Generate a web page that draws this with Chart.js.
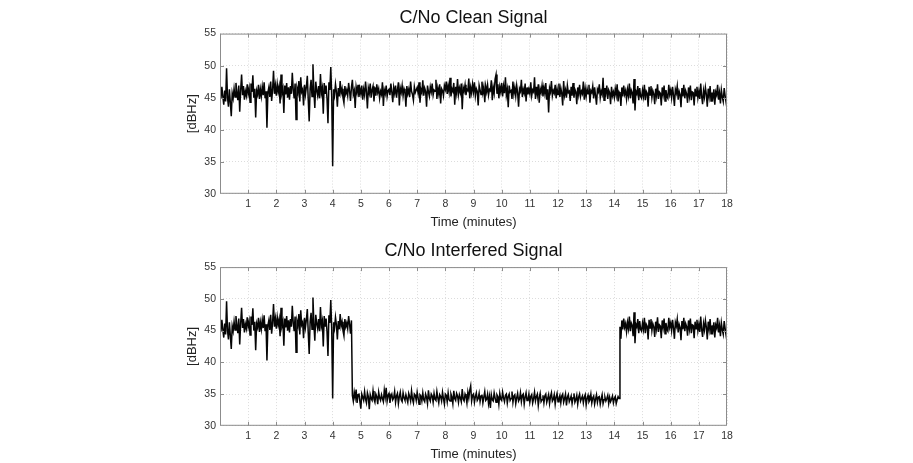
<!DOCTYPE html>
<html>
<head>
<meta charset="utf-8">
<script src="https://cdn.jsdelivr.net/npm/chart.js@4.4.0/dist/chart.umd.min.js"></script>
<style>
  html, body { margin: 0; padding: 0; background: #fff; }
  #wrap { position: relative; width: 913px; height: 463px; overflow: hidden; }
  .box { position: absolute; left: 0; width: 913px; }
</style>
</head>
<body>
<div id="wrap">
  <div class="box" style="top:0;height:231px"><canvas id="clean"></canvas></div>
  <div class="box" style="top:231px;height:232px"><canvas id="jam"></canvas></div>
</div>
<script>
// one sample every 2 s, 0 .. 18 min
const STEP_MIN = 2 / 60;

// C/No of the clean signal [dBHz], 15 samples per row = half a minute
const clean = [
  45.9, 44.8, 46.7, 45.2, 43.9, 46.1, 44.4, 49.6, 45.0, 43.6, 46.3, 44.2, 42.1, 45.7, 44.9,
  46.4, 45.1, 47.3, 45.8, 44.6, 46.9, 42.8, 46.2, 48.6, 45.4, 46.8, 44.7, 46.0, 45.3, 47.1,
  45.6, 46.5, 44.3, 47.2, 45.9, 48.5, 45.0, 46.4, 41.9, 46.1, 45.5, 47.0, 44.8, 46.3, 45.2,
  46.7, 45.4, 47.4, 44.9, 46.0, 40.3, 45.8, 46.6, 45.1, 47.5, 44.5, 46.2, 49.2, 45.6, 46.9,
  45.3, 47.1, 45.9, 46.8, 44.1, 48.6, 45.7, 46.4, 42.6, 46.9, 45.5, 47.3, 45.0, 46.6, 44.7,
  46.8, 45.6, 48.9, 46.2, 44.9, 47.2, 41.6, 46.5, 45.8, 47.6, 44.4, 48.2, 45.9, 46.3, 43.8,
  47.0, 45.5, 46.7, 48.4, 44.6, 41.3, 46.4, 47.8, 45.2, 50.2, 46.0, 43.4, 47.5, 46.1, 45.3,
  46.8, 44.9, 48.7, 45.7, 46.5, 42.5, 47.3, 45.6, 46.9, 44.8, 41.0, 47.4, 46.2, 49.8, 45.1,
  34.3, 46.3, 45.4, 47.1, 45.9, 43.6, 46.5, 45.2, 47.6, 45.7, 46.4, 45.0, 44.2, 46.8, 45.6,
  46.2, 45.3, 47.3, 46.0, 44.5, 46.6, 47.8, 45.5, 46.1, 43.4, 46.7, 45.8, 47.0, 45.1, 46.4,
  45.6, 46.9, 44.7, 46.3, 45.4, 47.5, 45.9, 43.3, 46.5, 45.7, 47.2, 45.0, 46.2, 46.8, 44.4,
  46.6, 45.3, 47.1, 45.8, 46.4, 44.9, 46.0, 45.5, 47.4, 43.7, 46.2, 45.6, 46.9, 45.2, 46.1,
  46.3, 45.4, 47.2, 45.9, 44.3, 46.6, 45.7, 46.9, 45.0, 46.2, 47.4, 43.8, 46.5, 45.8, 46.9,
  45.3, 46.4, 45.9, 43.6, 46.8, 45.6, 46.3, 45.1, 47.5, 46.0, 45.5, 44.6, 46.7, 45.8, 46.2,
  46.6, 45.7, 47.4, 44.2, 46.3, 45.8, 47.7, 45.3, 46.5, 46.0, 43.6, 46.9, 45.9, 45.2, 46.7,
  45.9, 47.2, 45.4, 46.2, 46.0, 47.8, 44.8, 46.5, 45.6, 47.1, 44.1, 46.4, 46.1, 45.3, 46.9,
  46.3, 47.5, 45.6, 46.9, 45.9, 48.1, 45.2, 46.4, 46.0, 47.3, 43.9, 46.7, 45.7, 47.9, 45.5,
  46.5, 45.8, 47.2, 43.2, 46.6, 46.0, 47.0, 45.4, 46.3, 46.1, 48.0, 44.9, 46.6, 45.7, 47.1,
  45.9, 47.4, 45.3, 46.4, 46.0, 43.8, 46.9, 46.2, 45.5, 47.5, 45.8, 46.7, 44.3, 46.8, 45.9,
  47.0, 45.4, 46.3, 46.1, 47.7, 44.6, 46.6, 45.7, 47.9, 48.6, 45.6, 47.1, 44.9, 46.7, 45.9,
  47.3, 45.2, 46.8, 45.7, 48.2, 45.4, 46.3, 43.5, 46.9, 45.9, 46.1, 44.8, 47.5, 45.6, 46.6,
  45.3, 46.9, 45.8, 43.6, 46.4, 46.0, 47.8, 45.1, 46.3, 45.7, 47.2, 44.4, 46.6, 45.5, 46.3,
  45.6, 47.4, 45.3, 46.2, 45.9, 48.2, 44.8, 46.7, 45.5, 47.1, 44.2, 46.4, 45.8, 46.9, 45.2,
  46.6, 45.6, 47.3, 44.7, 46.3, 42.7, 46.5, 45.9, 47.6, 45.3, 46.1, 45.7, 47.0, 44.9, 46.4,
  45.5, 47.2, 45.1, 46.5, 45.7, 43.8, 47.6, 45.4, 46.2, 45.0, 46.9, 45.8, 46.0, 44.5, 46.7,
  45.3, 47.3, 45.0, 46.3, 45.9, 44.0, 46.6, 45.5, 47.0, 45.2, 46.0, 45.6, 47.5, 44.7, 46.4,
  45.2, 46.4, 45.6, 47.0, 44.2, 46.1, 45.8, 46.8, 44.9, 46.6, 45.3, 43.9, 46.3, 45.9, 47.1,
  45.0, 46.0, 45.5, 48.1, 44.6, 46.5, 45.7, 46.9, 44.8, 46.2, 45.8, 44.0, 46.7, 45.3, 45.9,
  45.0, 46.4, 45.4, 47.1, 44.4, 45.9, 45.6, 43.7, 46.6, 45.2, 46.9, 45.5, 46.1, 44.8, 46.3,
  45.3, 47.2, 44.9, 46.2, 45.8, 44.1, 47.9, 43.0, 46.0, 45.6, 46.8, 44.6, 46.5, 45.2, 44.9,
  46.2, 45.2, 47.0, 44.6, 46.0, 45.7, 43.6, 46.7, 45.4, 46.8, 45.0, 46.1, 45.6, 44.0, 46.4,
  45.3, 47.1, 44.8, 45.9, 45.7, 43.8, 46.6, 45.5, 46.9, 44.5, 46.2, 45.2, 44.9, 47.0, 45.5,
  46.2, 45.0, 46.7, 45.4, 43.7, 46.3, 45.7, 46.8, 44.7, 46.0, 45.5, 43.5, 46.5, 45.2, 47.0,
  44.9, 46.1, 45.6, 44.2, 46.6, 45.3, 46.9, 44.6, 45.9, 45.8, 43.8, 46.4, 45.3, 46.7, 45.0,
  46.0, 44.8, 47.2, 45.2, 44.0, 46.1, 45.1, 46.6, 45.5, 43.6, 46.4, 45.2, 46.8, 44.5, 45.8,
  45.0, 46.3, 43.9, 45.9, 45.4, 47.0, 44.7, 45.8, 44.1, 46.2, 45.1, 44.4, 46.5, 45.3, 44.3,
  45.3
];

// jammed stretch of the interfered signal, 4.7 min .. 14.2 min
const JAM_FROM = 141;
const jammed = [
  34.8, 33.9, 35.3, 34.4, 35.7, 33.6, 34.9, 35.1, 33.8, 32.7, 35.0, 34.5, 34.0, 35.4, 34.2,
  33.6, 35.2, 34.6, 32.6, 34.9, 34.3, 34.0, 35.5, 34.2, 33.7, 35.0, 34.6, 33.4, 35.3, 34.4,
  34.0, 34.9, 34.3, 33.8, 35.6, 34.5, 36.0, 33.9, 34.8, 35.1, 33.6, 34.6, 35.0, 34.1, 34.4,
  35.4, 33.7, 34.7, 35.1, 33.5, 34.6, 35.3, 34.1, 33.8, 35.2, 34.4, 34.0, 34.9, 34.3, 33.7,
  35.1, 34.6, 33.9, 35.5, 34.2, 33.6, 35.0, 34.8, 34.0, 35.3, 34.4, 33.4, 34.9, 34.7, 33.9,
  35.2, 34.1, 33.8, 35.0, 34.5, 33.5, 35.6, 34.3, 33.9, 35.0, 34.7, 33.7, 35.1, 34.2, 34.0,
  35.4, 34.4, 33.6, 34.9, 34.6, 33.9, 35.3, 34.3, 33.4, 35.0, 34.8, 33.8, 35.2, 34.1, 33.9,
  35.0, 34.5, 33.5, 35.5, 34.3, 34.0, 35.1, 34.7, 33.7, 34.9, 34.4, 33.8, 35.8, 34.2, 33.9,
  35.0, 34.6, 33.6, 35.3, 34.4, 35.6, 36.3, 33.9, 34.8, 35.0, 33.7, 34.6, 35.2, 34.0, 34.3,
  35.1, 33.8, 34.7, 34.9, 33.6, 34.5, 35.4, 34.0, 34.2, 35.0, 33.5, 34.6, 32.8, 34.9, 34.1,
  33.9, 35.2, 34.4, 33.7, 34.9, 34.6, 33.4, 35.1, 34.2, 34.0, 35.3, 34.4, 33.8, 34.8, 35.0,
  33.6, 34.6, 35.0, 34.0, 34.3, 35.4, 33.7, 34.7, 34.9, 33.5, 34.4, 35.1, 33.9, 34.2, 35.2,
  33.8, 34.8, 35.0, 33.4, 34.5, 35.2, 34.0, 34.1, 35.0, 33.7, 34.6, 34.9, 33.6, 34.3, 35.3,
  33.9, 34.6, 35.0, 33.2, 34.4, 35.1, 33.8, 34.1, 34.8, 33.6, 34.7, 35.0, 33.7, 34.3, 34.9,
  33.5, 34.6, 35.2, 33.9, 34.2, 34.9, 33.4, 34.5, 35.1, 33.8, 34.3, 34.8, 33.6, 34.7, 35.0,
  33.7, 34.3, 35.0, 33.2, 34.5, 34.9, 33.8, 34.2, 34.7, 33.5, 34.4, 35.1, 33.7, 34.1, 34.8,
  33.4, 34.5, 35.0, 33.9, 34.3, 34.7, 33.6, 34.5, 34.9, 33.3, 34.3, 34.8, 33.8, 34.1, 35.0,
  33.6, 34.4, 34.7, 33.4, 34.2, 34.9, 33.7, 34.5, 34.6, 33.4, 34.2, 34.9, 33.5, 34.1, 34.5,
  33.9, 34.3, 34.8, 33.5, 34.5, 33.8, 34.2, 34.7, 33.6, 34.3, 34.6, 33.5, 34.1, 34.6, 34.3
];

const yTicks = [30, 35, 40, 45, 50, 55];
const xMax = 18;

const interfered = clean.map((v, i) =>
  (i >= JAM_FROM && i < JAM_FROM + jammed.length) ? jammed[i - JAM_FROM] : v);

const toPoints = arr => arr.map((v, i) => ({ x: i * STEP_MIN, y: v }));

const FONT = '"Liberation Sans", Arial, sans-serif';

// box round the axes, small inward ticks (matlab style), title centred on the axes
const framePlugin = {
  id: 'frame',
  afterLayout(chart) {
    const t = chart.titleBlock;
    if (t) { t.left = chart.chartArea.left; t.right = chart.chartArea.right; }
  },
  afterDraw(chart) {
    const { ctx, chartArea: a, scales } = chart;
    ctx.save();
    ctx.strokeStyle = '#8c8c8c';
    ctx.lineWidth = 1;
    ctx.strokeRect(a.left + 0.5, a.top + 0.5, a.right - a.left - 1, a.bottom - a.top - 1);
    ctx.beginPath();
    for (let t = 1; t < xMax; t++) {
      const px = Math.round(scales.x.getPixelForValue(t)) + 0.5;
      ctx.moveTo(px, a.bottom); ctx.lineTo(px, a.bottom - 4);
      ctx.moveTo(px, a.top); ctx.lineTo(px, a.top + 4);
    }
    yTicks.slice(1, -1).forEach(v => {
      const py = Math.round(scales.y.getPixelForValue(v)) + 0.5;
      ctx.moveTo(a.left, py); ctx.lineTo(a.left + 4, py);
      ctx.moveTo(a.right, py); ctx.lineTo(a.right - 4, py);
    });
    ctx.stroke();
    ctx.restore();
  }
};

function makeChart(id, title, values, titlePad) {
  return new Chart(document.getElementById(id), {
    type: 'line',
    data: {
      datasets: [{
        data: toPoints(values),
        borderColor: '#050505',
        borderWidth: 1.5,
        pointRadius: 0,
        tension: 0
      }]
    },
    options: {
      responsive: true,
      maintainAspectRatio: false,
      animation: false,
      layout: { padding: { left: 185, right: 186, top: 0, bottom: 1 } },
      plugins: {
        legend: { display: false },
        tooltip: { enabled: false },
        title: {
          display: true,
          text: title,
          color: '#111',
          font: { family: FONT, size: 18, weight: 'normal' },
          padding: titlePad
        }
      },
      scales: {
        x: {
          type: 'linear',
          min: 0,
          max: xMax,
          grid: { color: '#dcdcdc', lineWidth: 1, drawTicks: false },
          border: { display: false, dash: [1, 2] },
          ticks: {
            stepSize: 1,
            autoSkip: false,
            maxRotation: 0,
            padding: 4,
            color: '#333',
            font: { family: FONT, size: 10.5 },
            callback: v => (v === 0 ? '' : v)
          },
          title: {
            display: true,
            text: 'Time (minutes)',
            color: '#222',
            font: { family: FONT, size: 13 },
            padding: { top: 0, bottom: 0 }
          }
        },
        y: {
          min: 30,
          max: 55,
          afterFit: s => { s.width = 35; },
          afterBuildTicks: s => { s.ticks = yTicks.map(v => ({ value: v })); },
          grid: { color: '#dcdcdc', lineWidth: 1, drawTicks: false },
          border: { display: false, dash: [1, 2] },
          ticks: {
            padding: 4,
            color: '#333',
            font: { family: FONT, size: 10.5 }
          },
          title: {
            display: true,
            text: '[dBHz]',
            color: '#222',
            font: { family: FONT, size: 13 },
            padding: 0
          }
        }
      }
    },
    plugins: [framePlugin]
  });
}

makeChart('clean', 'C/No Clean Signal', clean, { top: 7, bottom: 5 });
makeChart('jam', 'C/No Interfered Signal', interfered, { top: 9.5, bottom: 5 });
</script>
</body>
</html>
